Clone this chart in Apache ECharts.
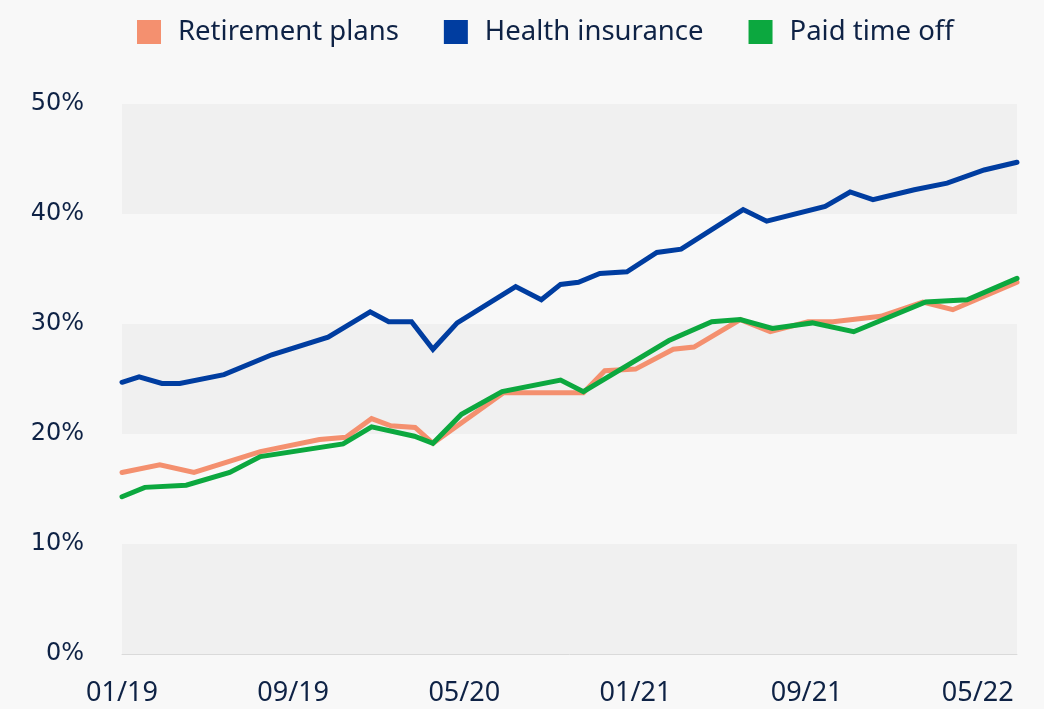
<!DOCTYPE html>
<html>
<head>
<meta charset="utf-8">
<script src="https://cdn.jsdelivr.net/npm/echarts@6/dist/echarts.min.js"></script>
<style>
  html, body { margin: 0; padding: 0; background: #f8f8f8; }
  #chart { width: 1044px; height: 709px; }
</style>
</head>
<body>
<div id="chart"></div>
<script>
  // survey dates (irregular) and shares in %
  const retirementDates = ['2019-01-01', '2019-02-24', '2019-04-12', '2019-07-15', '2019-10-08', '2019-11-15', '2019-12-21', '2020-01-18', '2020-02-22', '2020-03-17', '2020-06-26', '2020-10-18', '2020-11-18', '2021-01-01', '2021-02-24', '2021-03-23', '2021-05-28', '2021-07-10', '2021-09-03', '2021-10-08', '2021-12-15', '2022-02-14', '2022-03-26', '2022-06-26']
  const retirementValues = [16.5, 17.2, 16.5, 18.4, 19.5, 19.7, 21.4, 20.75, 20.6, 19.15, 23.75, 23.75, 25.75, 25.9, 27.7, 27.9, 30.4, 29.3, 30.2, 30.2, 30.7, 32.0, 31.3, 33.8]

  const healthDates = ['2019-01-01', '2019-01-25', '2019-02-27', '2019-03-22', '2019-05-24', '2019-08-01', '2019-10-20', '2019-12-19', '2020-01-15', '2020-02-17', '2020-03-17', '2020-04-21', '2020-07-13', '2020-08-19', '2020-09-16', '2020-10-11', '2020-11-11', '2020-12-19', '2021-02-01', '2021-03-05', '2021-06-02', '2021-07-05', '2021-09-27', '2021-11-02', '2021-12-04', '2022-02-02', '2022-03-18', '2022-05-10', '2022-06-26']
  const healthValues = [24.7, 25.2, 24.6, 24.6, 25.4, 27.2, 28.8, 31.1, 30.2, 30.2, 27.7, 30.1, 33.4, 32.2, 33.6, 33.8, 34.6, 34.75, 36.5, 36.8, 40.4, 39.35, 40.7, 42.0, 41.3, 42.2, 42.8, 44.0, 44.7]

  const ptoDates = ['2019-01-01', '2019-02-03', '2019-04-01', '2019-06-02', '2019-07-15', '2019-11-11', '2019-12-21', '2020-02-21', '2020-03-17', '2020-04-27', '2020-06-24', '2020-09-16', '2020-10-18', '2021-02-18', '2021-04-18', '2021-05-28', '2021-07-13', '2021-09-09', '2021-11-07', '2022-02-18', '2022-04-16', '2022-06-26']
  const ptoValues = [14.3, 15.15, 15.35, 16.5, 17.95, 19.1, 20.65, 19.8, 19.15, 21.8, 23.85, 24.9, 23.85, 28.5, 30.2, 30.4, 29.6, 30.1, 29.3, 32.0, 32.2, 34.15]

  const startDate = '2019-01-01'
  const endDate = '2022-06-26'

  // months since Jan 2019
  function toMonths(d) {
    const p = d.split('-').map(Number)
    return (p[0] - 2019) * 12 + (p[1] - 1) + (p[2] - 1) / 30
  }
  function pairs(dates, vals) {
    return dates.map((d, i) => [toMonths(d), vals[i]])
  }

  const chart = echarts.init(document.getElementById('chart'))
  const lineBase = {
    type: 'line',
    showSymbol: false,
    symbol: 'none',
    animation: false,
  }
  chart.setOption({
    backgroundColor: '#f8f8f8',
    textStyle: { fontFamily: 'Noto Sans' },
    legend: {
      left: 132,
      top: 13,
      itemWidth: 24,
      itemHeight: 24,
      itemGap: 45,
      icon: 'rect',
      textStyle: {
        fontFamily: 'Noto Sans',
        fontSize: 27.5,
        color: '#0e2245',
        padding: [0, 0, 0, 12],
      },
      data: ['Retirement plans', 'Health insurance', 'Paid time off'],
    },
    grid: {
      left: 122,
      right: 27,
      top: 104,
      bottom: 55,
      containLabel: false,
    },
    xAxis: {
      type: 'value',
      min: toMonths(startDate),
      max: toMonths(endDate),
      interval: 8,
      axisLine: { show: true, lineStyle: { color: '#dadada', width: 1 } },
      axisTick: { show: false },
      splitLine: { show: false },
      axisLabel: {
        margin: 26,
        fontFamily: 'Noto Sans',
        fontSize: 27,
        color: '#0e2245',
        showMaxLabel: false,
        formatter: function (v) {
          const m = Math.round(v)
          const mm = (m % 12) + 1
          const yy = 19 + Math.floor(m / 12)
          return (mm < 10 ? '0' : '') + mm + '/' + yy
        },
      },
    },
    yAxis: {
      type: 'value',
      min: 0,
      max: 50,
      interval: 10,
      axisLine: { show: false },
      axisTick: { show: false },
      splitLine: { show: false },
      splitArea: {
        show: true,
        areaStyle: { color: ['#f0f0f0', 'rgba(0,0,0,0)'] },
      },
      axisLabel: {
        margin: 38,
        fontFamily: 'DejaVu Sans',
        fontSize: 24,
        color: '#0e2245',
        formatter: '{value}%',
      },
    },
    series: [
      Object.assign({}, lineBase, {
        name: 'Retirement plans',
        color: '#f4906f',
        lineStyle: { width: 5, color: '#f4906f', cap: 'round', join: 'miter' },
        data: pairs(retirementDates, retirementValues),
      }),
      Object.assign({}, lineBase, {
        name: 'Health insurance',
        color: '#003da0',
        lineStyle: { width: 5, color: '#003da0', cap: 'round', join: 'miter' },
        data: pairs(healthDates, healthValues),
      }),
      Object.assign({}, lineBase, {
        name: 'Paid time off',
        color: '#0ca83f',
        lineStyle: { width: 5, color: '#0ca83f', cap: 'round', join: 'miter' },
        data: pairs(ptoDates, ptoValues),
      }),
    ],
  })
</script>
</body>
</html>
